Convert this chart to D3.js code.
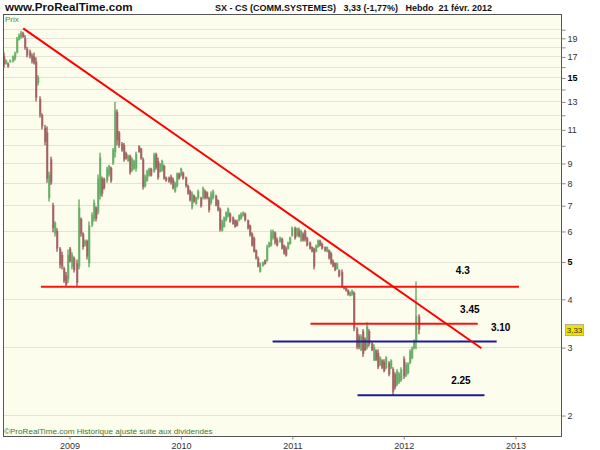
<!DOCTYPE html>
<html>
<head>
<meta charset="utf-8">
<script src="https://cdn.jsdelivr.net/npm/d3@7"></script>
<style>
  body { margin: 0; background: #fff; }
  svg { font-family: "Liberation Sans", Arial, sans-serif; }
</style>
</head>
<body>
<div class="canvas"></div>
<script>
// weekly bars, the first one is the week of 2 june 2008
const firstWeek = new Date(2008, 5, 2);

// [open, high, low, close] one row per week
const bars = [
  [17.0,17.4,15.9,16.2],[16.3,16.7,16.2,16.6],[16.3,16.4,15.9,16.0],[16.4,16.7,16.4,16.6],
  [16.5,17.1,16.4,17.0],[16.8,17.5,16.6,17.3],[17.4,19.1,17.3,18.9],[18.8,19.5,18.7,19.3],
  [19.1,19.8,18.9,19.6],[19.5,19.7,19.0,19.1],[19.0,19.3,17.7,17.9],[17.8,18.0,16.9,17.1],
  [17.5,17.7,16.8,17.0],[17.1,17.3,16.3,16.5],[17.0,17.4,16.2,16.3],[16.5,16.9,13.0,13.3],
  [14.5,15.2,14.3,15.0],[13.2,13.4,11.8,12.0],[12.0,12.1,11.0,11.2],[11.1,11.3,10.0,10.2],
  [10.8,11.2,8.0,8.2],[7.3,8.55,7.15,8.4],[9.2,9.35,7.9,8.0],[7.0,7.1,5.95,6.1],
  [5.9,6.35,5.8,6.3],[6.0,6.1,5.3,5.4],[5.4,5.45,4.8,4.9],[5.2,5.3,4.77,4.85],
  [4.8,4.85,4.4,4.45],[4.6,4.7,4.31,4.35],[4.5,5.37,4.4,5.2],[5.4,5.45,4.97,5.0],
  [4.85,5.28,4.77,5.2],[5.1,5.15,4.68,4.75],[4.95,5.06,4.31,4.4],[4.85,7.24,4.77,6.9],
  [6.45,6.5,5.8,5.9],[5.9,5.95,5.37,5.45],[5.5,5.7,5.47,5.65],[5.65,5.7,5.06,5.15],
  [4.95,6.35,4.83,6.2],[6.2,6.7,6.15,6.6],[6.45,7.24,6.35,7.1],[6.9,6.95,6.35,6.45],
  [6.7,8.4,6.62,8.2],[7.4,9.57,7.24,9.3],[8.2,8.3,7.36,7.5],[8.2,8.25,7.68,7.75],
  [8.1,8.8,8.0,8.7],[8.4,8.9,8.3,8.85],[8.75,8.8,8.0,8.1],[9.0,9.85,8.9,9.75],
  [9.6,12.96,9.3,12.3],[12.2,12.4,10.0,10.3],[10.8,10.9,9.85,10.0],[10.1,10.2,9.63,9.7],
  [10.0,10.15,9.07,9.2],[9.55,9.63,9.18,9.25],[9.1,9.46,9.07,9.4],[9.4,9.46,8.4,8.5],
  [8.6,9.3,8.55,9.2],[8.7,9.18,8.65,9.1],[8.7,9.63,8.55,9.5],[9.95,10.0,9.57,9.6],
  [9.8,9.85,9.18,9.25],[9.2,9.3,7.68,7.8],[7.85,8.4,7.77,8.3],[8.1,8.65,8.05,8.6],
  [8.35,8.75,8.3,8.7],[8.7,8.75,8.3,8.35],[8.55,9.57,8.5,9.45],[9.5,9.57,8.65,8.75],
  [9.1,9.3,8.15,8.25],[8.55,9.0,8.5,8.95],[8.6,9.18,8.55,9.1],[8.85,8.91,8.15,8.2],
  [8.25,8.3,8.05,8.1],[8.25,8.3,8.0,8.05],[8.3,8.4,7.91,8.0],[8.15,8.25,7.68,7.75],
  [7.6,8.05,7.54,8.0],[7.85,8.5,7.77,8.45],[8.45,8.5,8.15,8.2],[8.35,8.75,8.3,8.7],
  [8.5,8.55,8.15,8.2],[8.25,8.3,7.77,7.85],[7.85,7.91,7.45,7.5],[7.6,7.68,7.15,7.2],
  [6.9,7.6,6.82,7.5],[7.4,7.45,7.1,7.15],[7.05,7.36,7.02,7.3],[7.3,7.68,7.24,7.6],
  [7.3,7.36,6.9,6.95],[7.3,7.82,7.24,7.75],[7.6,7.68,7.24,7.3],[7.55,7.6,7.24,7.3],
  [7.3,7.36,6.7,6.8],[7.1,7.6,7.02,7.5],[7.3,7.68,7.24,7.6],[7.4,7.45,6.95,7.0],
  [7.2,7.24,6.74,6.8],[6.85,6.9,5.98,6.05],[6.0,6.42,5.98,6.35],[6.15,6.54,6.12,6.5],
  [6.4,6.74,6.35,6.7],[6.55,6.9,6.5,6.85],[6.65,6.7,6.3,6.35],[6.5,6.54,6.23,6.25],
  [6.4,6.42,6.12,6.15],[6.35,6.42,6.16,6.2],[6.4,6.62,6.35,6.6],[6.45,6.7,6.42,6.65],
  [6.55,6.74,6.54,6.7],[6.65,6.7,6.35,6.4],[6.4,6.42,6.05,6.1],[6.2,6.23,5.8,5.85],
  [5.9,5.95,5.47,5.5],[5.75,5.8,5.28,5.3],[5.35,5.37,5.06,5.1],[5.1,5.15,4.83,4.85],
  [4.7,4.97,4.68,4.95],[4.87,5.0,4.85,4.98],[5.04,5.06,4.91,4.93],[5.02,5.53,5.0,5.45],
  [5.45,5.63,5.43,5.6],[5.5,6.05,5.47,5.95],[5.75,6.05,5.7,6.0],[5.95,5.98,5.53,5.6],
  [5.7,5.77,5.47,5.5],[5.6,5.8,5.6,5.75],[5.72,5.77,5.37,5.4],[5.5,5.53,5.21,5.25],
  [5.4,5.47,5.15,5.18],[5.4,5.63,5.37,5.6],[5.55,5.8,5.53,5.77],[5.82,6.16,5.8,6.1],
  [6.1,6.16,5.7,5.75],[5.82,6.12,5.8,6.08],[6.0,6.12,5.77,5.8],[5.65,6.05,5.63,6.0],
  [5.9,5.95,5.63,5.67],[6.0,6.05,5.63,5.7],[5.75,5.8,5.47,5.5],[5.6,5.63,5.37,5.4],
  [5.45,5.47,5.28,5.3],[5.4,5.43,4.77,4.85],[5.3,5.53,5.28,5.5],[5.45,5.7,5.43,5.67],
  [5.65,5.7,5.47,5.5],[5.55,5.6,5.37,5.4],[5.45,5.47,5.3,5.33],[5.3,5.47,5.28,5.45],
  [5.35,5.37,5.06,5.1],[5.25,5.3,4.91,4.95],[5.0,5.06,4.83,4.86],[4.95,4.97,4.72,4.75],
  [4.78,4.97,4.77,4.95],[4.75,4.77,4.55,4.58],[4.7,4.77,4.28,4.32],[4.3,4.31,4.23,4.25],
  [4.27,4.28,4.18,4.2],[4.22,4.23,4.08,4.1],[4.07,4.18,4.06,4.16],[4.1,4.23,4.08,4.2],
  [4.15,4.18,3.3,3.35],[3.35,3.38,2.96,3.0],[3.2,3.24,2.96,3.0],[2.95,3.24,2.93,3.2],
  [3.3,3.34,2.83,2.88],[3.15,3.18,2.93,2.95],[3.0,3.48,2.96,3.4],[3.3,3.34,3.01,3.05],
  [3.07,3.09,2.93,2.95],[2.78,3.05,2.76,3.0],[2.94,2.96,2.76,2.78],[2.9,2.96,2.63,2.66],
  [2.7,2.84,2.68,2.82],[2.77,2.79,2.63,2.65],[2.75,2.79,2.58,2.6],[2.65,2.84,2.63,2.82],
  [2.73,2.76,2.52,2.55],[2.65,2.79,2.63,2.77],[2.63,2.66,2.25,2.3],[2.55,2.58,2.33,2.36],
  [2.4,2.63,2.38,2.6],[2.43,2.58,2.41,2.56],[2.46,2.66,2.44,2.63],[2.8,2.84,2.48,2.52],
  [2.53,2.74,2.51,2.7],[2.57,2.74,2.55,2.72],[2.73,2.96,2.71,2.93],[2.81,3.01,2.79,2.98],
  [2.98,3.14,2.96,3.12],[3.1,4.44,2.96,3.62],[3.6,3.65,3.24,3.33]
];

// right axis: a grid line on every unit, a label only on some
const gridPrices = [2,3,4,5,6,7,8,9,10,11,12,13,14,15,16,17,18,19,20];
const tickLabels = [2,3,4,5,6,7,8,9,11,13,15,17,19];
const boldLabels = [5, 15];
const lastPrice = 3.33;

// falling resistance line
const trendDates = ['2008-08-04', '2012-09-13'];
const trendPrices = [20.1, 2.98];

// horizontal levels
const levelPrices = [4.3, 3.45, 3.10, 2.25];
const levelNames = ['4.3', '3.45', '3.10', '2.25'];
const levelStarts = ['2008-10-01', '2011-03-03', '2010-10-30', '2011-08-04'];
const levelEnds = ['2013-01-14', '2012-09-01', '2012-11-02', '2012-09-23'];
const labelDates = ['2012-07-14', '2012-08-06', '2012-11-15', '2012-07-08'];

const parse = d3.timeParse('%Y-%m-%d');

const width = 600;
const height = 450;
const plot = {left: 3, top: 14, right: 561, bottom: 436};

const svg = d3.select('.canvas')
  .append('svg')
    .attr('width', width)
    .attr('height', height);

const x = d3.scaleTime()
  .domain([new Date(2009, 0, 1), new Date(2013, 0, 1)])
  .range([69, 515]);

const y = d3.scaleLog()
  .domain([1.765, 21.9])
  .range([plot.bottom, plot.top]);

// plot background
svg.append('rect')
  .attr('x', plot.left)
  .attr('y', plot.top)
  .attr('width', plot.right - plot.left)
  .attr('height', plot.bottom - plot.top)
  .attr('fill', '#fdfdee');

svg.append('clipPath').attr('id', 'clip')
  .append('rect')
    .attr('x', plot.left)
    .attr('y', plot.top)
    .attr('width', plot.right - plot.left)
    .attr('height', plot.bottom - plot.top);

// grid lines
svg.append('g')
  .selectAll('line')
  .data(gridPrices)
  .enter().append('line')
    .attr('x1', plot.left)
    .attr('x2', plot.right)
    .attr('y1', d => Math.round(y(d)) + 0.5)
    .attr('y2', d => Math.round(y(d)) + 0.5)
    .attr('stroke', '#e3e3d6')
    .attr('stroke-width', 1);

const graph = svg.append('g').attr('clip-path', 'url(#clip)');

// bars
const barData = bars.map((b, i) => ({
  date: d3.timeWeek.offset(firstWeek, i),
  open: b[0], high: b[1], low: b[2], close: b[3]
}));

const up = d => d.close >= d.open;

graph.append('g')
  .selectAll('rect')
  .data(barData)
  .enter().append('rect')
    .attr('x', d => Math.round(x(d.date)) - 0.5)
    .attr('width', 2)
    .attr('y', d => y(Math.max(d.open, d.close)))
    .attr('height', d => Math.max(1, y(Math.min(d.open, d.close)) - y(Math.max(d.open, d.close))))
    .attr('fill', d => up(d) ? '#a3d3a0' : '#c9a0a0');

graph.append('g')
  .selectAll('line')
  .data(barData)
  .enter().append('line')
    .attr('x1', d => Math.round(x(d.date)))
    .attr('x2', d => Math.round(x(d.date)))
    .attr('y1', d => y(d.high))
    .attr('y2', d => y(d.low))
    .attr('stroke', d => up(d) ? '#2a8a2a' : '#7a2424')
    .attr('stroke-width', 1);

// levels
const levelColor = d3.scaleOrdinal()
  .domain(levelNames)
  .range(['#ff1010', '#ff1010', '#1c1c96', '#1c1c96']);

graph.append('g')
  .selectAll('line')
  .data(levelPrices)
  .enter().append('line')
    .attr('x1', (d, i) => x(parse(levelStarts[i])))
    .attr('x2', (d, i) => x(parse(levelEnds[i])))
    .attr('y1', d => y(d))
    .attr('y2', d => y(d))
    .attr('stroke', (d, i) => levelColor(levelNames[i]))
    .attr('stroke-width', 2);

// trend line
graph.append('line')
  .attr('x1', x(parse(trendDates[0])))
  .attr('y1', y(trendPrices[0]))
  .attr('x2', x(parse(trendDates[1])))
  .attr('y2', y(trendPrices[1]))
  .attr('stroke', '#ff0000')
  .attr('stroke-width', 2);

// level labels
svg.append('g')
  .selectAll('text')
  .data(levelPrices)
  .enter().append('text')
    .attr('x', (d, i) => x(parse(labelDates[i])))
    .attr('y', (d, i) => y(d) - (i === 0 ? 13 : 11))
    .attr('text-anchor', 'middle')
    .attr('font-size', 10)
    .attr('font-weight', 'bold')
    .attr('fill', '#000')
    .text((d, i) => levelNames[i]);

// border
svg.append('rect')
  .attr('x', plot.left + 0.5)
  .attr('y', plot.top + 0.5)
  .attr('width', plot.right - plot.left)
  .attr('height', plot.bottom - plot.top)
  .attr('fill', 'none')
  .attr('stroke', '#555')
  .attr('stroke-width', 1);

// right axis
const yAxis = d3.axisRight(y)
  .tickValues(gridPrices)
  .tickSize(4)
  .tickPadding(2)
  .tickFormat(d => tickLabels.includes(d) ? d : '');

const yAxisGroup = svg.append('g')
  .attr('transform', `translate(${plot.right + 0.5}, 0.5)`)
  .call(yAxis);

yAxisGroup.select('.domain').remove();
yAxisGroup.selectAll('line').attr('stroke', '#888');
yAxisGroup.selectAll('text')
  .attr('font-size', 9)
  .attr('font-family', '"Liberation Sans", Arial, sans-serif')
  .attr('font-weight', d => boldLabels.includes(d) ? 'bold' : 'normal')
  .attr('fill', d => boldLabels.includes(d) ? '#000' : '#333');

// bottom axis
const xAxis = d3.axisBottom(x)
  .ticks(d3.timeYear)
  .tickSize(3)
  .tickPadding(3)
  .tickFormat(d3.timeFormat('%Y'));

const xAxisGroup = svg.append('g')
  .attr('transform', `translate(0.5, ${plot.bottom + 0.5})`)
  .call(xAxis);

xAxisGroup.select('.domain').remove();
xAxisGroup.selectAll('line').attr('stroke', '#888');
xAxisGroup.selectAll('text')
  .attr('font-size', 9)
  .attr('font-family', '"Liberation Sans", Arial, sans-serif')
  .attr('fill', '#333');

// last price tag
svg.append('rect')
  .attr('x', 565.5)
  .attr('y', Math.round(y(lastPrice)) - 5.5)
  .attr('width', 18)
  .attr('height', 11)
  .attr('fill', '#f2e200')
  .attr('stroke', '#b0b0a0');

svg.append('text')
  .attr('x', 574.5)
  .attr('y', Math.round(y(lastPrice)) + 3)
  .attr('text-anchor', 'middle')
  .attr('font-size', 8)
  .attr('fill', '#333')
  .text('3,33');

// header texts
svg.append('text')
  .attr('x', 5)
  .attr('y', 11)
  .attr('font-size', 11.6)
  .attr('font-weight', 'bold')
  .attr('fill', '#111')
  .text('www.ProRealTime.com');

svg.append('text')
  .attr('x', 215)
  .attr('y', 11)
  .attr('font-size', 9)
  .attr('font-weight', 'bold')
  .attr('fill', '#111')
  .attr('xml:space', 'preserve')
  .style('white-space', 'pre')
  .text('SX - CS (COMM.SYSTEMES)   3,33 (-1,77%)   Hebdo  21 févr. 2012');

svg.append('text')
  .attr('x', 5)
  .attr('y', 22)
  .attr('font-size', 8)
  .attr('fill', '#4b8b4b')
  .text('Prix');

svg.append('text')
  .attr('x', 4)
  .attr('y', 434)
  .attr('font-size', 8.1)
  .attr('fill', '#3a7a3a')
  .text('©ProRealTime.com  Historique ajusté suite aux dividendes');
</script>
</body>
</html>
